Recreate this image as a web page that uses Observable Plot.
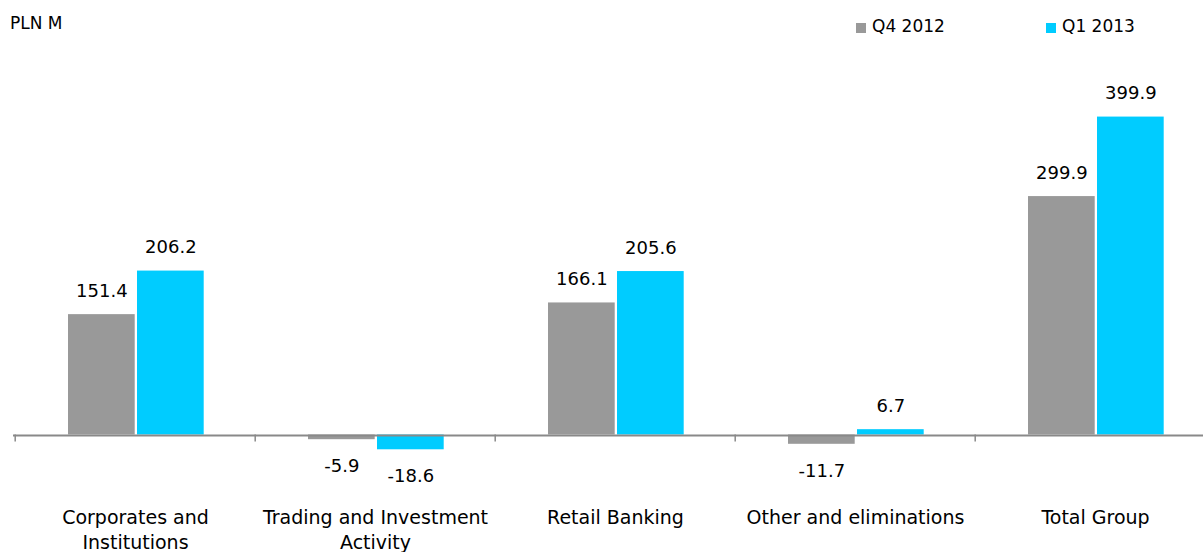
<!DOCTYPE html>
<html>
<head>
<meta charset="utf-8">
<script src="https://cdn.jsdelivr.net/npm/d3@7"></script>
<script src="https://cdn.jsdelivr.net/npm/@observablehq/plot@0.6"></script>
<style>
  html, body { margin: 0; padding: 0; background: #fff; overflow: hidden; }
  body { width: 1203px; height: 552px; font-family: "DejaVu Sans", sans-serif; color: #000; }
  #hdr { position: relative; height: 45px; width: 1203px; }
  #hdr .t { position: absolute; transform: translateY(-50%); white-space: nowrap; line-height: 1.16; }
  #hdr .sw { position: absolute; width: 10px; height: 10px; }
  #chart { width: 1203px; overflow: hidden; }
  #chart svg { max-width: none !important; }
</style>
</head>
<body>
<div id="hdr"></div>
<div id="chart"></div>
<script>
// ---- data ----
const categories = ["Corporates and Institutions", "Trading and Investment Activity", "Retail Banking", "Other and eliminations", "Total Group"];
const categoryLabels = ["Corporates and\nInstitutions", "Trading and Investment\nActivity", "Retail Banking", "Other and eliminations", "Total Group"];
const seriesNames = ["Q4 2012", "Q1 2013"];
const q4_2012 = [151.4, -5.9, 166.1, -11.7, 299.9];
const q1_2013 = [206.2, -18.6, 205.6, 6.7, 399.9];
const seriesColors = ["#999999", "#00CCFF"];
const unitLabel = "PLN M";

// ---- header (unit + legend) ----
const hdr = document.getElementById("hdr");
const unit = document.createElement("span");
unit.className = "t"; unit.textContent = unitLabel;
unit.style.left = "10px"; unit.style.top = "24px"; unit.style.fontSize = "17px";
hdr.appendChild(unit);
const legendX = [856, 1046];
seriesNames.forEach((s, i) => {
  const sw = document.createElement("span");
  sw.className = "sw"; sw.style.left = legendX[i] + "px"; sw.style.top = "23px";
  sw.style.background = seriesColors[i];
  hdr.appendChild(sw);
  const t = document.createElement("span");
  t.className = "t"; t.textContent = s; t.style.left = (legendX[i] + 16) + "px";
  t.style.top = "27px"; t.style.fontSize = "17px";
  hdr.appendChild(t);
});

// ---- table ----
const rows = [];
categories.forEach((c, i) => {
  rows.push({category: c, series: seriesNames[0], value: q4_2012[i]});
  rows.push({category: c, series: seriesNames[1], value: q1_2013[i]});
});

// ---- layout ----
const W = 1216, H = 507, mL = 13, mR = 0;
const step = (W - mL - mR) / categories.length;   // ~240.6
const barW = 67.3, gap = 1.7, leftPad = 53;
const insets = [
  {insetLeft: leftPad, insetRight: step - leftPad - barW},
  {insetLeft: leftPad + barW + gap, insetRight: step - leftPad - 2 * barW - gap}
];
const centersDx = [
  leftPad + barW / 2 - step / 2,
  leftPad + barW + gap + barW / 2 - step / 2
];

const marks = [];
seriesNames.forEach((s, i) => {
  marks.push(Plot.barY(rows.filter(d => d.series === s), {
    x: "category", y: "value", fill: seriesColors[i], ...insets[i]
  }));
});
marks.push(Plot.ruleY([0], {stroke: "#898989", strokeWidth: 2, dy: 0.5}));
marks.push(Plot.ruleX(categories, {
  x: d => d, dx: -step / 2, y1: 0, y2: 0, insetBottom: -7,
  stroke: "#898989", strokeWidth: 1.5
}));
seriesNames.forEach((s, i) => {
  const sub = rows.filter(d => d.series === s);
  marks.push(Plot.text(sub.filter(d => d.value >= 0), {
    x: "category", y: "value", text: d => d.value.toFixed(1),
    dx: centersDx[i], dy: -23.5, fontSize: 18, fill: "#000", lineAnchor: "middle"
  }));
  marks.push(Plot.text(sub.filter(d => d.value < 0), {
    x: "category", y: "value", text: d => d.value.toFixed(1),
    dx: centersDx[i], dy: 26.5, fontSize: 18, fill: "#000", lineAnchor: "middle"
  }));
});
marks.push(Plot.text(categories, {
  x: d => d, text: (d, i) => categoryLabels[i],
  frameAnchor: "bottom", lineAnchor: "top", dy: 39.5,
  fontSize: 19, lineHeight: 25 / 19, fill: "#000"
}));

const chart = Plot.plot({
  width: W,
  height: H,
  marginLeft: mL,
  marginRight: mR,
  marginTop: 31.75,
  marginBottom: 85.7,
  style: {fontFamily: "DejaVu Sans, sans-serif", background: "#fff", overflow: "visible", maxWidth: "none"},
  x: {domain: categories, padding: 0, axis: null},
  y: {domain: [-40, 450], axis: null},
  marks
});
document.getElementById("chart").appendChild(chart);
</script>
</body>
</html>
